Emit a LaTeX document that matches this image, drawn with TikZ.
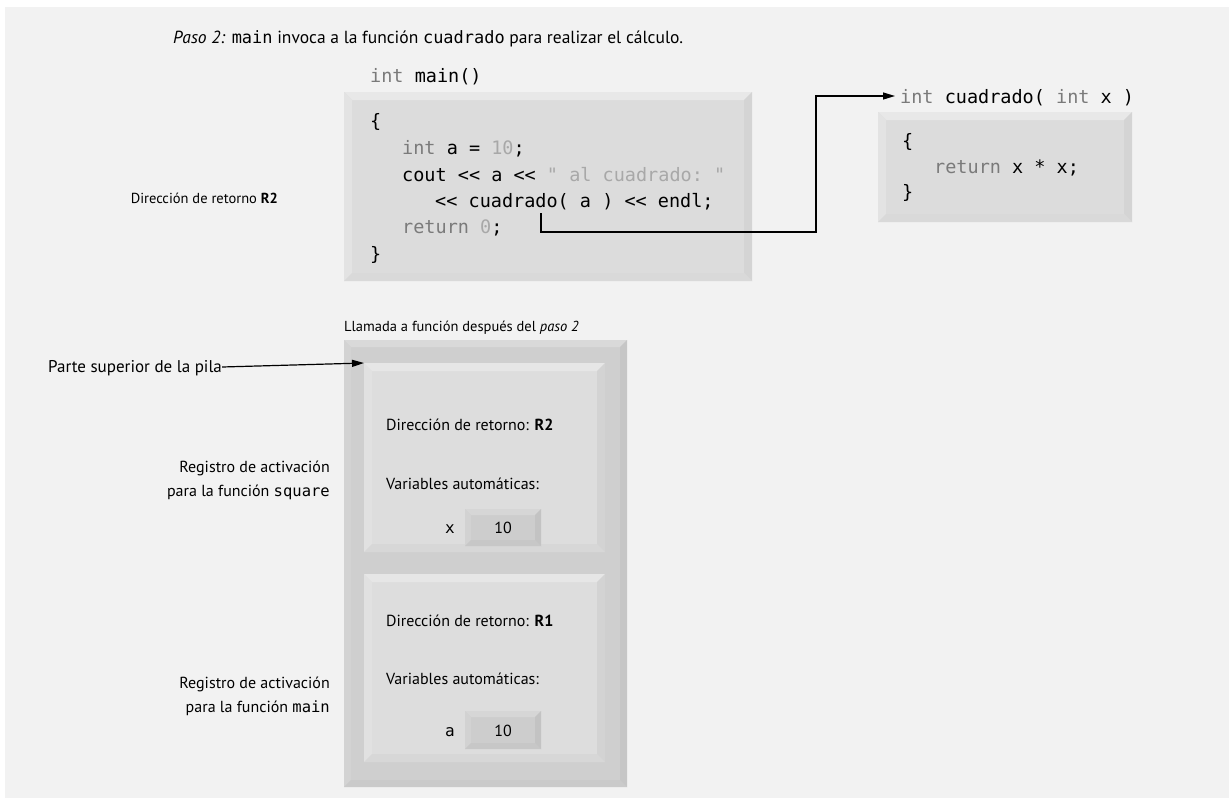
\documentclass[tikz,border=0pt]{standalone}
\usepackage{fontspec}
\setmainfont{PT Sans}
\setmonofont{DejaVu Sans Mono}
\usetikzlibrary{calc,arrows.meta}
\definecolor{bg}{HTML}{F2F2F2}
\definecolor{codegray}{HTML}{7A7A7A}
\definecolor{codelight}{HTML}{A8A8A8}
\definecolor{mbt}{HTML}{E8E8E8}\definecolor{mbl}{HTML}{E3E3E3}\definecolor{mbr}{HTML}{D4D4D4}\definecolor{mbb}{HTML}{D9D9D9}\definecolor{mbf}{HTML}{DCDCDC}
\definecolor{skt}{HTML}{D9D9D9}\definecolor{skl}{HTML}{D3D3D3}\definecolor{skr}{HTML}{C6C6C6}\definecolor{skb}{HTML}{CACACA}\definecolor{skf}{HTML}{CFCFCF}
\definecolor{frt}{HTML}{E6E6E6}\definecolor{frl}{HTML}{E1E1E1}\definecolor{frr}{HTML}{D3D3D3}\definecolor{frb}{HTML}{D7D7D7}\definecolor{frf}{HTML}{DDDDDD}
\definecolor{vbt}{HTML}{D6D6D6}\definecolor{vbl}{HTML}{D2D2D2}\definecolor{vbr}{HTML}{C3C3C3}\definecolor{vbb}{HTML}{C7C7C7}\definecolor{vbf}{HTML}{CDCDCD}
\newcommand\kw[1]{\textcolor{codegray}{#1}}
\newcommand\lt[1]{\textcolor{codelight}{#1}}
\newcommand\cw[1]{{\ttfamily\fontsize{0.97em}{1em}\selectfont #1}}
\newcommand\bevbox[5]{%
 \coordinate (#1-nw) at (#2);
 \coordinate (#1-se) at (#3);
 \coordinate (#1-ne) at (#1-se |- #1-nw);
 \coordinate (#1-sw) at (#1-nw |- #1-se);
 \coordinate (#1-inw) at ($(#1-nw)+(#4,#4)$);
 \coordinate (#1-ine) at ($(#1-ne)+(-#4,#4)$);
 \coordinate (#1-ise) at ($(#1-se)+(-#4,-#4)$);
 \coordinate (#1-isw) at ($(#1-sw)+(#4,-#4)$);
 \fill[#5f] (#1-nw) rectangle (#1-se);
 \fill[#5t] (#1-nw) -- (#1-ne) -- (#1-ine) -- (#1-inw) -- cycle;
 \fill[#5l] (#1-nw) -- (#1-inw) -- (#1-isw) -- (#1-sw) -- cycle;
 \fill[#5r] (#1-ne) -- (#1-se) -- (#1-ise) -- (#1-ine) -- cycle;
 \fill[#5b] (#1-sw) -- (#1-isw) -- (#1-ise) -- (#1-se) -- cycle;
}
\begin{document}
\begin{tikzpicture}[x=1pt,y=-1pt,
  txt/.style={font=\fontsize{16}{19}\selectfont, inner sep=0pt, anchor=base west},
  rtxt/.style={txt, anchor=base east, align=right},
  code/.style={font=\fontsize{18.5}{20}\ttfamily, inner sep=0pt, anchor=base west},
  conn/.style={line width=1.2pt, draw=black},
  tip/.style={-{Triangle[length=12pt,width=7pt]}}]
\useasboundingbox (0,0) rectangle (1229,798);
\fill[white] (0,0) rectangle (1229,798);
\fill[bg] (5,7) rectangle (1229,798);

\node[txt, font=\fontsize{17.5}{20}\selectfont] (title) at (173,43) {\textit{Paso 2:} \cw{main} invoca a la función \cw{cuadrado} para realizar el cálculo.};

\node[code] (mainhdr) at (370,82) {\kw{int} main()};
\bevbox{mb}{344,92}{752,281}{8}{mb}
\node[code] (l1) at (370,127) {\{};
\node[code] (l2) at (402,154) {\kw{int} a = \lt{10};};
\node[code] (l3) at (402,181) {cout << a << \lt{" al cuadrado: "}};
\node[code] (l4) at (435,207) {<< cuadrado( a ) << endl;};
\node[code] (l5) at (402,233) {\kw{return} \lt{0};};
\node[code] (l6) at (370,260) {\}};
\node[rtxt, font=\fontsize{14.5}{18}\selectfont] (ret2) at (278,203) {Dirección de retorno \textbf{R2}};
\coordinate (callpt) at (541,213);

\node[code] (sqhdr) at (900,103) {\kw{int} cuadrado( \kw{int} x )};
\bevbox{sb}{878,112}{1132,222}{8}{mb}
\node[code] (s1) at (902,147) {\{};
\node[code] (s2) at (934,173) {\kw{return} x * x;};
\node[code] (s3) at (902,198) {\}};

\draw[conn,tip] (callpt) |- (816,232) |- ([xshift=-5pt]sqhdr.west |- 0,96);

\node[txt, font=\fontsize{14.5}{18}\selectfont] (stacktitle) at (344,331) {Llamada a función después del \textit{paso 2}};
\bevbox{sk}{344,340}{627,787}{7}{sk}
\bevbox{fa}{364,363}{605,552}{8}{fr}
\bevbox{fb}{364,574}{605,762}{8}{fr}

\node[txt, font=\fontsize{17}{20}\selectfont] (topl) at (48,372) {Parte superior de la pila};
\draw[conn,tip] (topl.east |- 0,367) -- (fa-nw);

\node[rtxt] (rega) at (330,472) {Registro de activación};
\node[rtxt] (regb) at (330,496) {para la función \cw{square}};
\node[rtxt] (regc) at (330,688) {Registro de activación};
\node[rtxt] (regd) at (330,712) {para la función \cw{main}};

\node[txt] (fa1) at (386,430) {Dirección de retorno: \textbf{R2}};
\node[txt] (fa2) at (386,489) {Variables automáticas:};
\bevbox{va}{465,509}{541,546}{6}{vb}
\node[txt, anchor=base] (xv) at (503,533) {10};
\node[anchor=base east, inner sep=0pt, font=\fontsize{16}{18}\ttfamily] (xn) at (455,533) {x};

\node[txt] (fb1) at (386,626) {Dirección de retorno: \textbf{R1}};
\node[txt] (fb2) at (386,684) {Variables automáticas:};
\bevbox{vbx}{465,711}{541,749}{6}{vb}
\node[txt, anchor=base] (av) at (503,736) {10};
\node[anchor=base east, inner sep=0pt, font=\fontsize{16}{18}\ttfamily] (an) at (455,736) {a};
\end{tikzpicture}
\end{document}
